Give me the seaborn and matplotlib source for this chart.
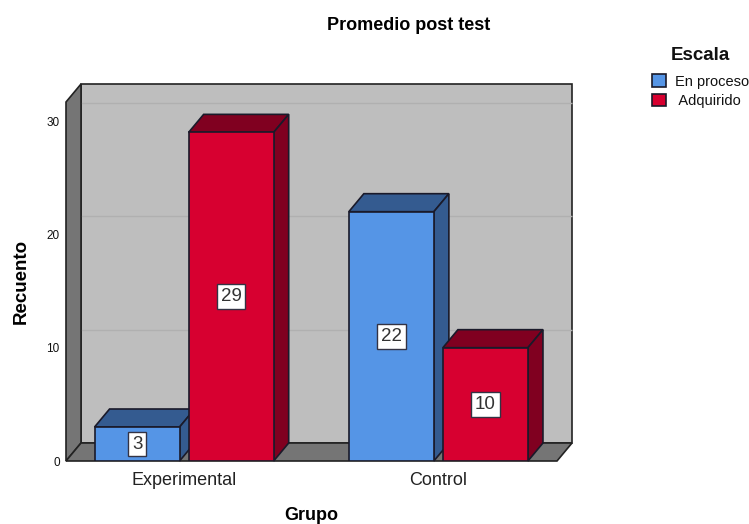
import matplotlib
matplotlib.use("Agg")
import matplotlib.pyplot as plt
import pandas as pd
import seaborn as sns
from matplotlib.patches import Polygon

grupos = ["Experimental", "Control"]
escalas = ["En proceso", "Adquirido"]
en_proceso = [3, 22]
adquirido = [29, 10]
y_ticks = [0, 10, 20, 30]

colores = {"En proceso": "#5595E6", "Adquirido": "#D70030"}
oscuros = {"En proceso": "#345B90", "Adquirido": "#800020"}
W, H = 749, 524

sns.set_style("white")
plt.rcParams["font.family"] = ["Liberation Sans", "DejaVu Sans"]
plt.rcParams["text.color"] = "#111111"

df = pd.DataFrame({
    "Grupo": grupos * 2,
    "Escala": [escalas[0]] * 2 + [escalas[1]] * 2,
    "Recuento": en_proceso + adquirido,
})

fig = plt.figure(figsize=(W / 100, H / 100), dpi=100)
ax = fig.add_axes([66 / W, 1 - 461 / H, (557 - 66) / W, (461 - 102) / H])

sns.barplot(data=df, x="Grupo", y="Recuento", hue="Escala", order=grupos, hue_order=escalas,
            palette=colores, saturation=1, width=0.74, gap=0.096, edgecolor="#1a1a2a", linewidth=1.2, ax=ax)

ax.set_xlim(-0.4645, 1.4665)
ax.set_ylim(0, 31.68)
xmin, xmax = ax.get_xlim()
ymin, ymax = ax.get_ylim()

# depth of the fake 3D box, 15 px right and 18 px up
dx = 15 / 254
dy = 18 / 11.33
borde = "#222222"

# walls and floor
ax.add_patch(Polygon([(xmin + dx, dy), (xmax + dx, dy), (xmax + dx, ymax + dy), (xmin + dx, ymax + dy)],
                     fc="#BEBEBE", ec=borde, lw=1.2, clip_on=False, zorder=0.5))
ax.add_patch(Polygon([(xmin, 0), (xmin + dx, dy), (xmin + dx, ymax + dy), (xmin, ymax)],
                     fc="#757575", ec=borde, lw=1.2, clip_on=False, zorder=0.6))
ax.add_patch(Polygon([(xmin, 0), (xmax, 0), (xmax + dx, dy), (xmin + dx, dy)],
                     fc="#757575", ec=borde, lw=1.2, clip_on=False, zorder=0.6))
ax.hlines([t + dy for t in y_ticks[1:]], xmin + dx, xmax + dx, color="#B0B0B0", lw=1,
          clip_on=False, zorder=0.55)

# top and side faces of each bar, left to right so neighbours overlap correctly
barras = []
for escala, cont in zip(escalas, ax.containers):
    for b in cont:
        barras.append((b.get_x(), escala, b))
barras.sort(key=lambda t: t[0])
for i, (x0, escala, b) in enumerate(barras):
    z = 2 + i
    x1 = x0 + b.get_width()
    alto = b.get_height()
    b.set_zorder(z + 0.5)
    ax.add_patch(Polygon([(x0, alto), (x1, alto), (x1 + dx, alto + dy), (x0 + dx, alto + dy)],
                         fc=oscuros[escala], ec="#1a1a2a", lw=1.2, clip_on=False, zorder=z))
    ax.add_patch(Polygon([(x1, 0), (x1 + dx, dy), (x1 + dx, alto + dy), (x1, alto)],
                         fc=oscuros[escala], ec="#1a1a2a", lw=1.2, clip_on=False, zorder=z))

for cont in ax.containers:
    etiquetas = ax.bar_label(cont, label_type="center", fontsize=13.5, color="#333333",
                             bbox=dict(boxstyle="square,pad=0.2", fc="white", ec="#333344", lw=1))
    for t in etiquetas:
        t.set_zorder(20)

sns.despine(ax=ax, left=True, bottom=True)
ax.set_yticks(y_ticks)
ax.tick_params(axis="y", length=0, pad=4.5, labelsize=8.5, labelcolor="#111111")
ax.tick_params(axis="x", length=0, pad=8, labelsize=13, labelcolor="#222222")
ax.set_xlabel("")
ax.set_ylabel("")

fig.text(409 / W, 1 - 25.5 / H, "Promedio post test", fontsize=13, fontweight="bold", color="black", ha="center", va="center")
fig.text(311 / W, 1 - 515 / H, "Grupo", fontsize=13, fontweight="bold", color="black", ha="center", va="center")
fig.text(21 / W, 1 - 281 / H, "Recuento", fontsize=13.5, fontweight="bold", color="black", rotation=90, ha="center", va="center")

leg = ax.legend(title="Escala", loc="upper left", bbox_to_anchor=(652 / W, 1 - 47 / H),
                bbox_transform=fig.transFigure, frameon=False, fontsize=10.5,
                title_fontproperties={"weight": "bold", "size": 13.5}, handlelength=0.95,
                handleheight=0.95, handletextpad=0.6, labelspacing=0.35, borderpad=0, borderaxespad=0)
leg._legend_box.sep = 7.5
for h in leg.legend_handles:
    h.set_edgecolor("#1a1a2a")
    h.set_linewidth(1.2)
leg.get_texts()[1].set_text(" Adquirido")

fig.savefig("out.png", dpi=100)
